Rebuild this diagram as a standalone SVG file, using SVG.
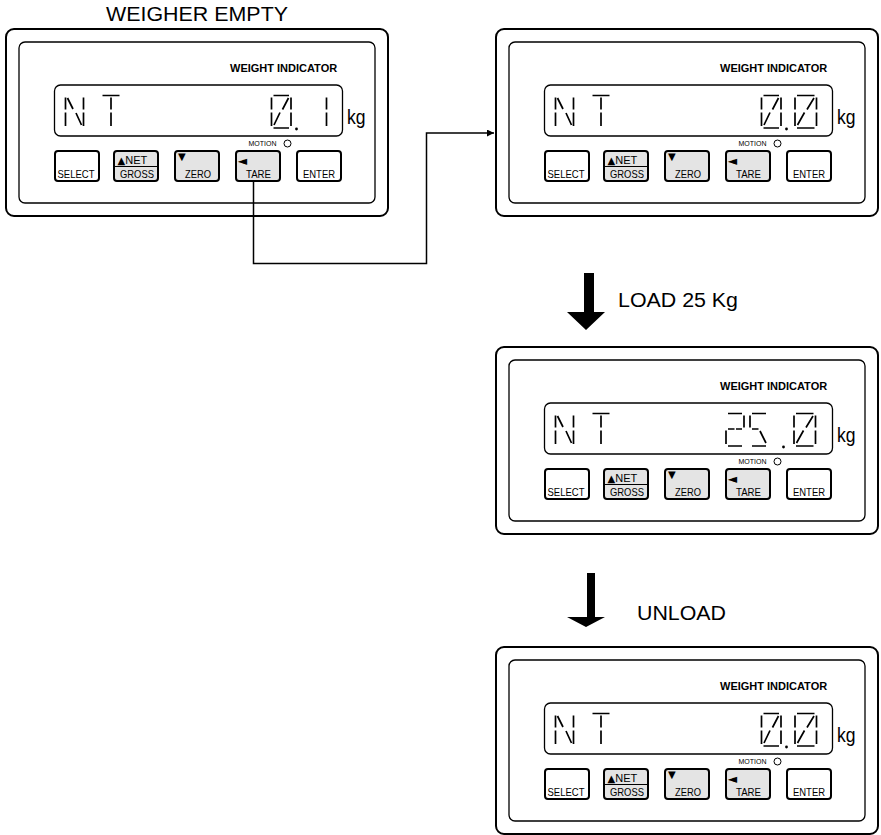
<svg xmlns="http://www.w3.org/2000/svg" width="881" height="835" viewBox="0 0 881 835">
<style>
text{font-family:"Liberation Sans",Arial,"DejaVu Sans",sans-serif;fill:#000}
.outer{fill:#fff;stroke:#000;stroke-width:2}
.inner{fill:none;stroke:#000;stroke-width:1.3}
.lcd{fill:none;stroke:#000;stroke-width:1.3}
.seg{fill:none;stroke:#000;stroke-width:1.7;stroke-linecap:butt}
.btn{fill:#fff;stroke:#000;stroke-width:2}
.gray{fill:#e4e4e4}
.div{stroke:#000;stroke-width:1}
.wi{font-size:11px;font-weight:bold}
.kg{font-size:20px}
.mo{font-size:7px}
.led{fill:#fff;stroke:#000;stroke-width:1}
.bt{font-size:11px}
.sym{font-family:"DejaVu Sans",sans-serif;font-size:10px}
.lft{font-family:"DejaVu Sans",sans-serif;font-size:12.5px}
.big{font-size:20.5px}
.conn{fill:none;stroke:#000;stroke-width:1.5}
</style>
<defs>
<marker id="ah" viewBox="0 0 10 10" refX="10" refY="5" markerWidth="8" markerHeight="7" markerUnits="userSpaceOnUse" orient="auto">
<path d="M0 0L10 5L0 10z" fill="#000"/>
</marker>
</defs>

<text class="big" x="106" y="21" textLength="182" lengthAdjust="spacingAndGlyphs">WEIGHER EMPTY</text>

<g id="panel-empty">
<rect class="outer" x="6" y="29" width="382" height="187" rx="8"/>
<rect class="inner" x="19" y="42" width="356" height="161" rx="6"/>
<text class="wi" x="230" y="72">WEIGHT INDICATOR</text>
<rect class="lcd" x="54.5" y="85" width="288" height="51" rx="6"/>
<path class="seg" d="M65.5 97.5V109.5M65.5 112.5V126M83.5 97.5V109.5M83.5 112.5V126M67.5 98L73 109M76 113L81.5 125M102.5 95.5H119.5M111 97.5V109.5M111 112.5V126"/>
<path class="seg" d="M273.5 95.5H289M273.5 128H289M271.5 97.5V109.5M271.5 112.5V126M291 97.5V109.5M291 112.5V126M288.5 98L282.5 109.5M280 112.5L274 125"/>
<path class="seg" d="M326.5 97.5V109.5M326.5 112.5V126"/>
<circle cx="296.5" cy="129" r="1.4"/>
<text class="kg" x="347" y="124" textLength="18.5" lengthAdjust="spacingAndGlyphs">kg</text>
<text class="mo" x="248.5" y="146">MOTION</text>
<circle class="led" cx="287.5" cy="143.5" r="3.5"/>
<rect class="btn" x="55" y="151" width="44" height="30" rx="3"/>
<rect class="btn gray" x="114" y="151" width="44" height="30" rx="3"/>
<path class="div" d="M114 166.5H158"/>
<rect class="btn gray" x="175" y="151" width="44" height="30" rx="3"/>
<rect class="btn gray" x="236" y="151" width="44" height="30" rx="3"/>
<rect class="btn" x="297" y="151" width="44" height="30" rx="3"/>
<text class="bt" x="57.5" y="177.5" textLength="37" lengthAdjust="spacingAndGlyphs">SELECT</text>
<text class="bt" x="117.5" y="163.5"><tspan class="sym">▲</tspan><tspan>NET</tspan></text>
<text class="bt" x="120" y="177.5" textLength="34" lengthAdjust="spacingAndGlyphs">GROSS</text>
<text class="sym" x="178" y="160">▼</text>
<text class="bt" x="185" y="177.5" textLength="26" lengthAdjust="spacingAndGlyphs">ZERO</text>
<text class="lft" x="237.5" y="165">◄</text>
<text class="bt" x="246" y="177.5" textLength="25" lengthAdjust="spacingAndGlyphs">TARE</text>
<text class="bt" x="303" y="177.5" textLength="32" lengthAdjust="spacingAndGlyphs">ENTER</text>
</g>

<g id="panel-tare" transform="translate(490,0)">
<rect class="outer" x="6" y="29" width="382" height="187" rx="8"/>
<rect class="inner" x="19" y="42" width="356" height="161" rx="6"/>
<text class="wi" x="230" y="72">WEIGHT INDICATOR</text>
<rect class="lcd" x="54.5" y="85" width="288" height="51" rx="6"/>
<path class="seg" d="M65.5 97.5V109.5M65.5 112.5V126M83.5 97.5V109.5M83.5 112.5V126M67.5 98L73 109M76 113L81.5 125M102.5 95.5H119.5M111 97.5V109.5M111 112.5V126"/>
<path class="seg" d="M273.5 95.5H289M273.5 128H289M271.5 97.5V109.5M271.5 112.5V126M291 97.5V109.5M291 112.5V126M288.5 98L282.5 109.5M280 112.5L274 125"/>
<path class="seg" d="M307 95.5H324.5M307 128H324.5M305 97.5V109.5M305 112.5V126M326.5 97.5V109.5M326.5 112.5V126M324 98L317 109.5M314.5 112.5L307.5 125"/>
<circle cx="296.5" cy="129" r="1.4"/>
<text class="kg" x="347" y="124" textLength="18.5" lengthAdjust="spacingAndGlyphs">kg</text>
<text class="mo" x="248.5" y="146">MOTION</text>
<circle class="led" cx="287.5" cy="143.5" r="3.5"/>
<rect class="btn" x="55" y="151" width="44" height="30" rx="3"/>
<rect class="btn gray" x="114" y="151" width="44" height="30" rx="3"/>
<path class="div" d="M114 166.5H158"/>
<rect class="btn gray" x="175" y="151" width="44" height="30" rx="3"/>
<rect class="btn gray" x="236" y="151" width="44" height="30" rx="3"/>
<rect class="btn" x="297" y="151" width="44" height="30" rx="3"/>
<text class="bt" x="57.5" y="177.5" textLength="37" lengthAdjust="spacingAndGlyphs">SELECT</text>
<text class="bt" x="117.5" y="163.5"><tspan class="sym">▲</tspan><tspan>NET</tspan></text>
<text class="bt" x="120" y="177.5" textLength="34" lengthAdjust="spacingAndGlyphs">GROSS</text>
<text class="sym" x="178" y="160">▼</text>
<text class="bt" x="185" y="177.5" textLength="26" lengthAdjust="spacingAndGlyphs">ZERO</text>
<text class="lft" x="237.5" y="165">◄</text>
<text class="bt" x="246" y="177.5" textLength="25" lengthAdjust="spacingAndGlyphs">TARE</text>
<text class="bt" x="303" y="177.5" textLength="32" lengthAdjust="spacingAndGlyphs">ENTER</text>
</g>

<g id="panel-load" transform="translate(490,318)">
<rect class="outer" x="6" y="29" width="382" height="187" rx="8"/>
<rect class="inner" x="19" y="42" width="356" height="161" rx="6"/>
<text class="wi" x="230" y="72">WEIGHT INDICATOR</text>
<rect class="lcd" x="54.5" y="85" width="288" height="51" rx="6"/>
<path class="seg" d="M65.5 97.5V109.5M65.5 112.5V126M83.5 97.5V109.5M83.5 112.5V126M67.5 98L73 109M76 113L81.5 125M102.5 95.5H119.5M111 97.5V109.5M111 112.5V126"/>
<path class="seg" d="M238 95.5H252M254 97.5V109.5M238 111H244.5M246 111H252M236 112.5V126M238 128H252"/>
<path class="seg" d="M262 95.5H276M260 97.5V109.5M262 111H268.5M270 113L276 125M262 128H276"/>
<path class="seg" d="M306 95.5H323.5M306 128H323.5M304 97.5V109.5M304 112.5V126M325.5 97.5V109.5M325.5 112.5V126M323 98L316 109.5M313.5 112.5L306.5 125"/>
<circle cx="293.5" cy="129" r="1.4"/>
<text class="kg" x="347" y="124" textLength="18.5" lengthAdjust="spacingAndGlyphs">kg</text>
<text class="mo" x="248.5" y="146">MOTION</text>
<circle class="led" cx="287.5" cy="143.5" r="3.5"/>
<rect class="btn" x="55" y="151" width="44" height="30" rx="3"/>
<rect class="btn gray" x="114" y="151" width="44" height="30" rx="3"/>
<path class="div" d="M114 166.5H158"/>
<rect class="btn gray" x="175" y="151" width="44" height="30" rx="3"/>
<rect class="btn gray" x="236" y="151" width="44" height="30" rx="3"/>
<rect class="btn" x="297" y="151" width="44" height="30" rx="3"/>
<text class="bt" x="57.5" y="177.5" textLength="37" lengthAdjust="spacingAndGlyphs">SELECT</text>
<text class="bt" x="117.5" y="163.5"><tspan class="sym">▲</tspan><tspan>NET</tspan></text>
<text class="bt" x="120" y="177.5" textLength="34" lengthAdjust="spacingAndGlyphs">GROSS</text>
<text class="sym" x="178" y="160">▼</text>
<text class="bt" x="185" y="177.5" textLength="26" lengthAdjust="spacingAndGlyphs">ZERO</text>
<text class="lft" x="237.5" y="165">◄</text>
<text class="bt" x="246" y="177.5" textLength="25" lengthAdjust="spacingAndGlyphs">TARE</text>
<text class="bt" x="303" y="177.5" textLength="32" lengthAdjust="spacingAndGlyphs">ENTER</text>
</g>

<g id="panel-unload" transform="translate(490,618)">
<rect class="outer" x="6" y="29" width="382" height="187" rx="8"/>
<rect class="inner" x="19" y="42" width="356" height="161" rx="6"/>
<text class="wi" x="230" y="72">WEIGHT INDICATOR</text>
<rect class="lcd" x="54.5" y="85" width="288" height="51" rx="6"/>
<path class="seg" d="M65.5 97.5V109.5M65.5 112.5V126M83.5 97.5V109.5M83.5 112.5V126M67.5 98L73 109M76 113L81.5 125M102.5 95.5H119.5M111 97.5V109.5M111 112.5V126"/>
<path class="seg" d="M273.5 95.5H289M273.5 128H289M271.5 97.5V109.5M271.5 112.5V126M291 97.5V109.5M291 112.5V126M288.5 98L282.5 109.5M280 112.5L274 125"/>
<path class="seg" d="M307 95.5H324.5M307 128H324.5M305 97.5V109.5M305 112.5V126M326.5 97.5V109.5M326.5 112.5V126M324 98L317 109.5M314.5 112.5L307.5 125"/>
<circle cx="296.5" cy="129" r="1.4"/>
<text class="kg" x="347" y="124" textLength="18.5" lengthAdjust="spacingAndGlyphs">kg</text>
<text class="mo" x="248.5" y="146">MOTION</text>
<circle class="led" cx="287.5" cy="143.5" r="3.5"/>
<rect class="btn" x="55" y="151" width="44" height="30" rx="3"/>
<rect class="btn gray" x="114" y="151" width="44" height="30" rx="3"/>
<path class="div" d="M114 166.5H158"/>
<rect class="btn gray" x="175" y="151" width="44" height="30" rx="3"/>
<rect class="btn gray" x="236" y="151" width="44" height="30" rx="3"/>
<rect class="btn" x="297" y="151" width="44" height="30" rx="3"/>
<text class="bt" x="57.5" y="177.5" textLength="37" lengthAdjust="spacingAndGlyphs">SELECT</text>
<text class="bt" x="117.5" y="163.5"><tspan class="sym">▲</tspan><tspan>NET</tspan></text>
<text class="bt" x="120" y="177.5" textLength="34" lengthAdjust="spacingAndGlyphs">GROSS</text>
<text class="sym" x="178" y="160">▼</text>
<text class="bt" x="185" y="177.5" textLength="26" lengthAdjust="spacingAndGlyphs">ZERO</text>
<text class="lft" x="237.5" y="165">◄</text>
<text class="bt" x="246" y="177.5" textLength="25" lengthAdjust="spacingAndGlyphs">TARE</text>
<text class="bt" x="303" y="177.5" textLength="32" lengthAdjust="spacingAndGlyphs">ENTER</text>
</g>

<g id="connectors">
<path class="conn" d="M253.5 181V263.5H426.5V133H494" marker-end="url(#ah)"/>
<path d="M584 273H594V312H605L586 330L567 312H584Z" fill="#000"/>
<text class="big" x="618" y="307" textLength="120" lengthAdjust="spacingAndGlyphs">LOAD 25 Kg</text>
<path d="M587 573H595V617H605L586 627L567 617H587Z" fill="#000"/>
<text class="big" x="637" y="620" textLength="89" lengthAdjust="spacingAndGlyphs">UNLOAD</text>
</g>
</svg>
